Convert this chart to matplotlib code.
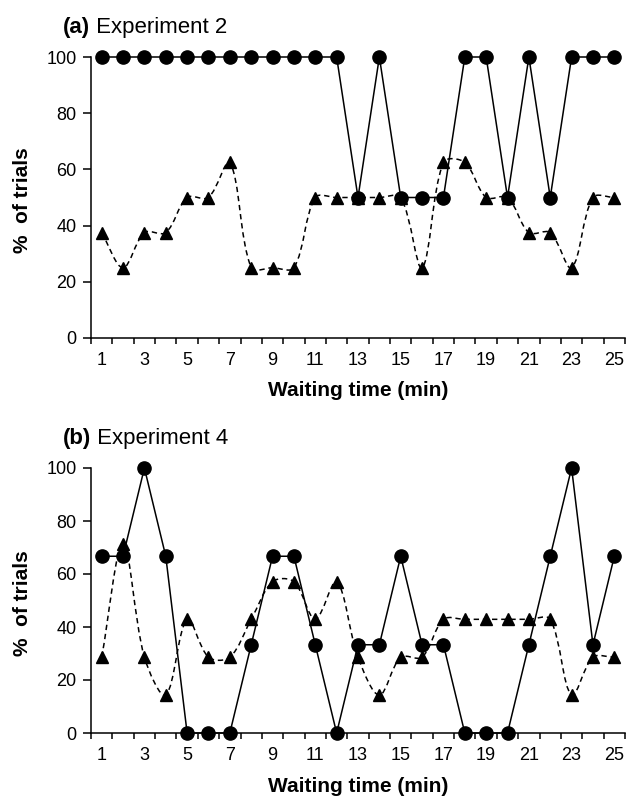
import numpy as np
import matplotlib
matplotlib.use("Agg")
import matplotlib.pyplot as plt
from matplotlib.path import Path
from matplotlib.patches import PathPatch

plt.rcParams['font.family'] = ['Liberation Sans', 'DejaVu Sans']

minutes = list(range(1, 26))
tick_labels = [str(m) if m % 2 == 1 else "" for m in minutes]

exp2_circles = [100, 100, 100, 100, 100, 100, 100, 100, 100, 100, 100, 100,
                50, 100, 50, 50, 50, 100, 100, 50, 100, 50, 100, 100, 100]
exp2_triangles = [37.5, 25, 37.5, 37.5, 50, 50, 62.5, 25, 25, 25, 50, 50,
                  50, 50, 50, 25, 62.5, 62.5, 50, 50, 37.5, 37.5, 25, 50, 50]

exp4_circles = [66.7, 66.7, 100, 66.7, 0, 0, 0, 33.3, 66.7, 66.7, 33.3, 0,
                33.3, 33.3, 66.7, 33.3, 33.3, 0, 0, 0, 33.3, 66.7, 100, 33.3, 66.7]
exp4_triangles = [28.6, 71.4, 28.6, 14.3, 42.9, 28.6, 28.6, 42.9, 57.1, 57.1,
                  42.9, 57.1, 28.6, 14.3, 28.6, 28.6, 42.9, 42.9, 42.9, 42.9,
                  42.9, 42.9, 14.3, 28.6, 28.6]

panels = [("(a)", "Experiment 2", exp2_circles, exp2_triangles),
          ("(b)", "Experiment 4", exp4_circles, exp4_triangles)]

W, H = 630, 797
fig = plt.figure(figsize=(W / 100, H / 100), dpi=100)
# axes boxes in pixels: left, top(y of 100), right, bottom(y of 0)
boxes = [(91, 57, 625, 338), (91, 468, 625, 733)]


def smooth_path_display(pts):
    # spreadsheet-style smoothed line: cubic Bezier, tangent scaled by segment lengths
    pts = np.asarray(pts, float)
    n = len(pts)
    verts = [tuple(pts[0])]
    codes = [Path.MOVETO]
    for i in range(n - 1):
        p0 = pts[i - 1] if i > 0 else pts[i]
        p1 = pts[i]
        p2 = pts[i + 1]
        p3 = pts[i + 2] if i + 2 < n else pts[i + 1]
        d01 = np.hypot(*(p1 - p0))
        d12 = np.hypot(*(p2 - p1))
        d23 = np.hypot(*(p3 - p2))
        k1 = d12 / (d01 + d12) / 3.0 if (d01 + d12) > 0 else 0
        k2 = d12 / (d12 + d23) / 3.0 if (d12 + d23) > 0 else 0
        c1 = p1 + (p2 - p0) * k1
        c2 = p2 - (p3 - p1) * k2
        verts += [tuple(c1), tuple(c2), tuple(p2)]
        codes += [Path.CURVE4] * 3
    return np.array(verts), codes


for (l, t, r, b), (tag, name, circ, tri) in zip(boxes, panels):
    hpx = b - t
    wpx = r - l
    ax = fig.add_axes([l / W, 1 - b / H, wpx / W, hpx / H])
    ax.set_xlim(0.5, 25.5)
    ax.set_ylim(0, 100)
    x = np.array(minutes, float)

    disp = ax.transData.transform(np.column_stack([x, tri]))
    verts, codes = smooth_path_display(disp)
    verts_data = ax.transData.inverted().transform(verts)
    patch = PathPatch(Path(verts_data, codes), facecolor='none', edgecolor='black',
                      linewidth=1.1, linestyle=(0, (3.5, 2.5)), clip_on=False,
                      transform=ax.transData)
    ax.add_patch(patch)
    ax.plot(x, tri, linestyle='none', marker='^', markersize=8.5,
            color='black', clip_on=False, zorder=3)
    ax.plot(x, circ, linestyle='-', linewidth=1.1, marker='o', markersize=9.5,
            color='black', clip_on=False, zorder=4)

    ax.set_yticks([0, 20, 40, 60, 80, 100])
    ax.set_xticks(minutes)
    ax.set_xticklabels(tick_labels)
    ax.set_xticks(np.arange(0.5, 26, 1.0), minor=True)
    ax.tick_params(axis='x', which='major', length=0, labelsize=13, pad=10)
    ax.tick_params(axis='x', which='minor', direction='out', length=4.3, width=1.1)
    ax.tick_params(axis='y', direction='out', length=5.5, width=1.1, labelsize=13, pad=5)
    for s in ['top', 'right']:
        ax.spines[s].set_visible(False)
    for s in ['left', 'bottom']:
        ax.spines[s].set_linewidth(1.1)
    ax.set_xlabel("Waiting time (min)", fontsize=15, fontweight='bold', va='center')
    ax.xaxis.set_label_coords(0.5, -53 / hpx)
    ax.set_ylabel("%  of trials", fontsize=15, fontweight='bold', va='center')
    ax.yaxis.set_label_coords(-68 / wpx, 0.49)
    t1 = ax.text((63 - l) / wpx, 1 + 24 / hpx, tag, transform=ax.transAxes,
                 fontsize=16, fontweight='bold', ha='left', va='baseline')
    ax.annotate(" " + name, xycoords=t1, xy=(1, 0), fontsize=16,
                ha='left', va='bottom')

fig.savefig("out.png", dpi=100)
